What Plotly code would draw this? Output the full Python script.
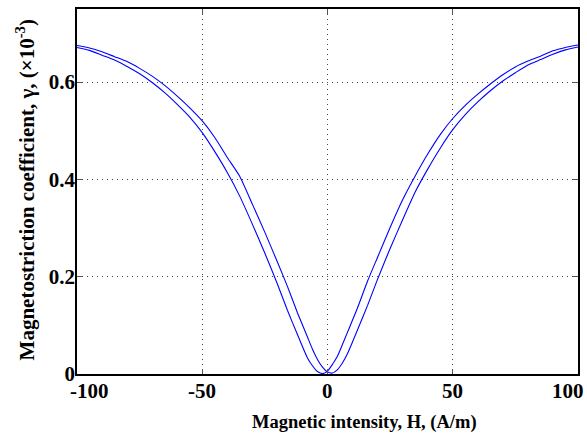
import plotly.graph_objects as go

# Magnetic intensity grid (A/m)
H = [-100, -95, -90, -85, -80, -75, -70, -65, -60, -55, -50, -45, -40, -35, -30, -25,
     -20, -16, -12, -8, -6, -4, -2, 0, 2, 4, 6, 8, 12, 16, 20, 25, 30, 35, 40, 45,
     50, 55, 60, 65, 70, 75, 80, 85, 90, 95, 100]

# Branch shifted left (outer on the left, inner on the right)
gamma_a = [0.671, 0.665, 0.655, 0.645, 0.632, 0.617, 0.599, 0.578, 0.554, 0.528, 0.496,
           0.457, 0.414, 0.365, 0.308, 0.248, 0.185, 0.131, 0.081, 0.033, 0.017, 0.005,
           0.001, 0.006, 0.020, 0.037, 0.061, 0.086, 0.136, 0.191, 0.240, 0.301, 0.358,
           0.407, 0.452, 0.492, 0.525, 0.552, 0.575, 0.596, 0.615, 0.631, 0.643, 0.653,
           0.664, 0.671, 0.676]

# Branch shifted right (inner on the left, outer on the right)
gamma_b = [0.675, 0.670, 0.662, 0.652, 0.642, 0.628, 0.612, 0.593, 0.571, 0.547, 0.520,
           0.486, 0.445, 0.406, 0.349, 0.291, 0.230, 0.180, 0.126, 0.076, 0.051, 0.030,
           0.014, 0.004, 0.002, 0.009, 0.023, 0.042, 0.091, 0.141, 0.195, 0.258, 0.317,
           0.374, 0.421, 0.464, 0.502, 0.533, 0.559, 0.582, 0.602, 0.619, 0.635, 0.646,
           0.657, 0.666, 0.672]

x_ticks = [-100, -50, 0, 50, 100]
x_tick_labels = ["-100", "-50", "0", "50", "100"]
y_ticks = [0, 0.2, 0.4, 0.6]
y_tick_labels = ["0", "0.2", "0.4", "0.6"]

FONT = "Liberation Serif"

fig = go.Figure()
for g in (gamma_a, gamma_b):
    fig.add_trace(go.Scatter(x=H, y=g, mode="lines", line_shape="spline",
                             line=dict(color="#0000ff", width=1.1, smoothing=0.6),
                             showlegend=False, hoverinfo="skip"))

axis_common = dict(
    showline=True, linecolor="black", linewidth=1.5, mirror="ticks",
    ticks="inside", ticklen=5, tickcolor="#555555", tickwidth=1,
    showgrid=True, gridcolor="#444444", gridwidth=1, griddash="1px,4px",
    zeroline=False,
)

fig.update_xaxes(range=[-100, 100], tickvals=x_ticks, showticklabels=False,
                 **axis_common)
fig.update_yaxes(range=[0, 0.75], tickvals=y_ticks, ticktext=y_tick_labels,
                 tickfont=dict(family=FONT, size=21, color="black", weight="bold"),
                 ticklabelstandoff=-4,
                 **axis_common)

annotations = []
shifts = {0: 12, len(x_ticks) - 1: -10}
for i, (v, t) in enumerate(zip(x_ticks, x_tick_labels)):
    annotations.append(dict(x=v, y=0, xref="x", yref="paper", text=f"<b>{t}</b>",
                            showarrow=False, yanchor="top", xanchor="center",
                            xshift=shifts.get(i, 0), yshift=-3,
                            font=dict(family=FONT, size=21, color="black")))

annotations.append(dict(x=0.573, y=-0.134, xref="paper", yref="paper",
                        text="<b>Magnetic intensity, H, (A/m)</b>", showarrow=False,
                        xanchor="center", yanchor="middle",
                        font=dict(family=FONT, size=18.5, color="black")))
annotations.append(dict(x=-0.103, y=0.504, xref="paper", yref="paper",
                        text="<b>Magnetostriction coefficient, γ, (×10<sup>-3</sup>)</b>",
                        showarrow=False, textangle=-90, xanchor="center", yanchor="middle",
                        font=dict(family=FONT, size=21, color="black")))

fig.update_layout(
    width=587, height=437,
    margin=dict(l=77, r=8, t=7, b=63),
    paper_bgcolor="white", plot_bgcolor="white",
    annotations=annotations,
)

fig.write_html("out.html", config={"displayModeBar": False},
               post_script="document.body.style.margin='0px';document.body.style.overflow='hidden';")
